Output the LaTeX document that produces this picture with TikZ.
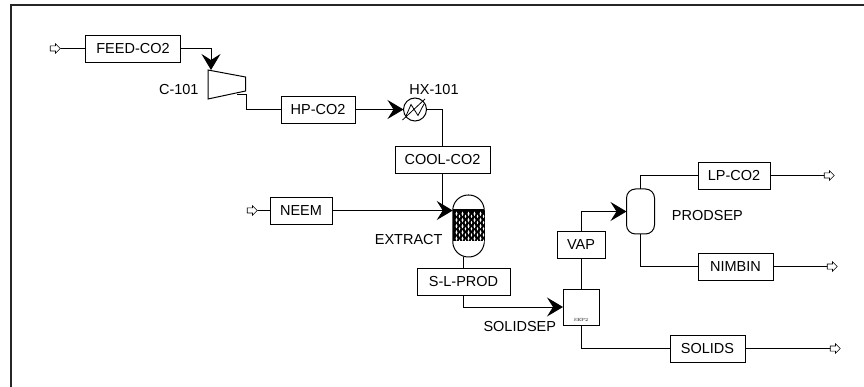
\documentclass[tikz,border=0pt]{standalone}
\usepackage{fontspec}
\setmainfont{Liberation Sans}
\usetikzlibrary{arrows.meta,shapes.arrows}

\tikzset{
  stream/.style={draw, line width=0.8pt, minimum height=27pt, inner sep=0pt, outer sep=0pt},
  port/.style={draw, line width=0.6pt, fill=white, shape=single arrow, single arrow head extend=2.2pt,
    single arrow head indent=0pt, minimum height=10pt, text width=4.5pt, text height=4.5pt, text depth=0pt, inner sep=0pt, outer sep=0pt},
  label/.style={inner sep=0pt},
  vessel/.style={draw, line width=1pt, inner sep=0pt, outer sep=0pt},
  hv/.style={to path={-| (\tikztotarget) \tikztonodes}},
  vh/.style={to path={|- (\tikztotarget) \tikztonodes}},
  bigtip/.style={-{Stealth[length=16pt, width=19pt, inset=6pt]}}
}

\begin{document}
\begin{tikzpicture}[x=1pt, y=-1pt, font=\fontsize{14.5pt}{16pt}\selectfont, line width=0.9pt]
    \useasboundingbox (0,0) rectangle (864,387);
    \draw [line width=2pt, black!85] (10.5,387) -- (10.5,5) -- (864,5);
    % streams
    \node (feedco2) [stream, minimum width=95pt] at (133,48.5) {FEED-CO2};
    \node (hpco2) [stream, minimum width=74pt] at (318,109.5) {HP-CO2};
    \node (coolco2) [stream, minimum width=95pt] at (442.5,160) {COOL-CO2};
    \node (neem) [stream, minimum width=62pt] at (301,210.5) {NEEM};
    \node (slprod) [stream, minimum width=93pt] at (463.5,281.5) {S-L-PROD};
    \node (vap) [stream, minimum width=48pt] at (581,244.5) {VAP};
    \node (lpco2) [stream, minimum width=72pt] at (734,175.5) {LP-CO2};
    \node (nimbin) [stream, minimum width=75pt] at (735.5,266.5) {NIMBIN};
    \node (solids) [stream, minimum width=75pt] at (707.5,348.5) {SOLIDS};
    % open ends
    \node (feedin) [port] at (54,48.5) {};
    \node (neemin) [port] at (251,210.5) {};
    \node (lpout) [port] at (828,175.5) {};
    \node (nimout) [port] at (831,266.5) {};
    \node (solout) [port] at (834,348.5) {};
    % compressor
    \draw [vessel] (208,70) -- (245.5,77) -- (245.5,91) -- (208,99) -- cycle;
    \coordinate (c101in) at (211,70);
    \coordinate (c101out) at (237,94);
    \coordinate (c101bend) at (246.7,94);
    \node (c101) [label, anchor=east] at (199,90) {C-101};
    % heat exchanger
    \node (hx101) [vessel, circle, minimum size=23pt] at (415,109.5) {};
    \draw [line width=0.8pt] (402.5,120) -- (425,99);
    \draw [line width=0.8pt] (406,116) -- (411,104.5) -- (418,115.5) -- (424,104);
    \node (hx101t) [label, anchor=west] at (409,90) {HX-101};
    % extractor
    \node (extract) [vessel, minimum width=31.5pt, minimum height=62pt, rounded corners=15.5pt] at (468.5,226) {};
    \fill [black] (452.8,209) rectangle (484.3,241);
    \foreach \i in {0,...,4} \foreach \j in {0,...,4} {
      \fill [white] (456.5+6*\i,211.5+6.2*\j) -- ++(1,2.3) -- ++(-1,2.3) -- ++(-1,-2.3) -- cycle;
      \fill [white] (459.5+6*\i,214.6+6.2*\j) -- ++(0.8,1.8) -- ++(-0.8,1.8) -- ++(-0.8,-1.8) -- cycle;
    }
    \node (extractt) [label, anchor=east] at (443,240) {EXTRACT};
    % solid separator
    \node (solidsep) [vessel, minimum width=36pt, minimum height=36pt] at (581,307) {};
    \node (sep2) [label, font=\fontfamily{lmr}\fontsize{4.5pt}{5pt}\selectfont] at (581,320) {SEP2};
    \node (solidsept) [label, anchor=east] at (556.5,327) {SOLIDSEP};
    % flash drum
    \node (prodsep) [vessel, minimum width=28pt, minimum height=45pt, rounded corners=9pt] at (640.5,211.5) {};
    \node (prodsept) [label, anchor=west] at (671.5,216) {PRODSEP};
    % connections
    \path
    (feedin) edge (feedco2)
    (neemin) edge (neem)
    (feedco2) edge[hv, bigtip] (c101in)
    (c101out) edge (c101bend)
    (c101bend) edge[vh] (hpco2)
    (hpco2) edge[bigtip] (hx101)
    (hx101) edge[hv] (coolco2)
    (coolco2.south) edge (442.5,210.5)
    (neem) edge[bigtip] (extract.west |- neem)
    (extract.south -| slprod) edge (slprod)
    (slprod) edge[vh, bigtip] (solidsep)
    (solidsep) edge (vap)
    (vap) edge[vh, bigtip] (prodsep)
    (prodsep) edge[vh] (lpco2)
    (prodsep) edge[vh] (nimbin)
    (solidsep) edge[vh] (solids)
    (lpco2) edge (lpout)
    (nimbin) edge (nimout)
    (solids) edge (solout)
    ;
\end{tikzpicture}
\end{document}
